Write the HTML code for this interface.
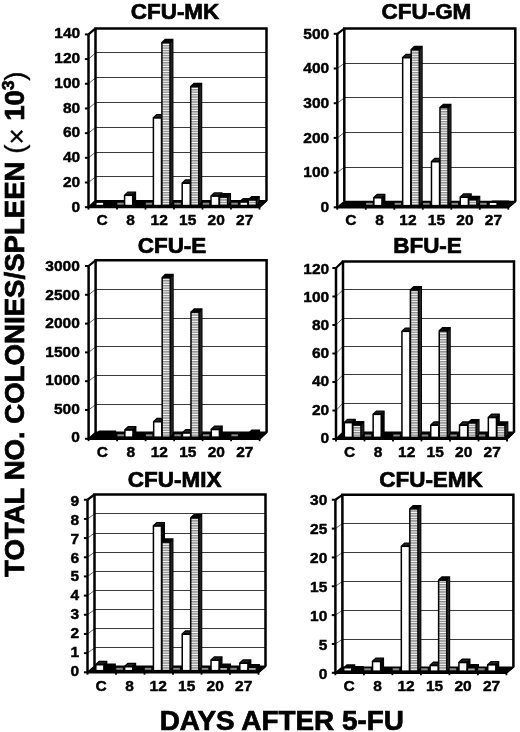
<!DOCTYPE html>
<html><head><meta charset="utf-8"><style>
html,body{margin:0;padding:0;background:#fff;}
svg{display:block;filter:grayscale(1);}
.tl{font-family:"Liberation Sans",sans-serif;font-weight:bold;font-size:15.5px;fill:#000;stroke:#000;stroke-width:0.45px;}
.tt{font-family:"Liberation Sans",sans-serif;font-weight:bold;font-size:21.6px;fill:#000;stroke:#000;stroke-width:0.7px;}
.ax{font-family:"Liberation Sans",sans-serif;font-weight:bold;font-size:27px;fill:#000;stroke:#000;stroke-width:0.7px;}
</style></head><body>
<svg width="520" height="732" viewBox="0 0 520 732">
<defs>
<pattern id="hatch" x="0" y="0" width="8" height="2.45" patternUnits="userSpaceOnUse">
<rect width="8" height="2.45" fill="#ababab"/>
<rect y="0" width="8" height="1.2" fill="#fcfcfc"/>
<rect y="1.2" width="8" height="0.45" fill="#505050"/>
</pattern>
</defs>
<rect width="520" height="732" fill="#fff"/>
<polygon points="88.5,34.4 95.5,28.4 95.5,200.7 88.5,207.2" fill="#fff"/>
<line x1="95.5" y1="176.5" x2="266.5" y2="176.5" stroke="#3a3a3a" stroke-width="1"/>
<line x1="88.5" y1="182.51" x2="95.5" y2="176.91" stroke="#555" stroke-width="0.9"/>
<line x1="95.5" y1="152.5" x2="266.5" y2="152.5" stroke="#3a3a3a" stroke-width="1"/>
<line x1="88.5" y1="157.83" x2="95.5" y2="152.13" stroke="#555" stroke-width="0.9"/>
<line x1="95.5" y1="127.5" x2="266.5" y2="127.5" stroke="#3a3a3a" stroke-width="1"/>
<line x1="88.5" y1="133.14" x2="95.5" y2="127.34" stroke="#555" stroke-width="0.9"/>
<line x1="95.5" y1="102.5" x2="266.5" y2="102.5" stroke="#3a3a3a" stroke-width="1"/>
<line x1="88.5" y1="108.46" x2="95.5" y2="102.56" stroke="#555" stroke-width="0.9"/>
<line x1="95.5" y1="77.5" x2="266.5" y2="77.5" stroke="#3a3a3a" stroke-width="1"/>
<line x1="88.5" y1="83.77" x2="95.5" y2="77.77" stroke="#555" stroke-width="0.9"/>
<line x1="95.5" y1="52.5" x2="266.5" y2="52.5" stroke="#3a3a3a" stroke-width="1"/>
<line x1="88.5" y1="59.09" x2="95.5" y2="52.99" stroke="#555" stroke-width="0.9"/>
<path d="M95.5,200.7 V28.4 H266.5 V200.7" fill="none" stroke="#000" stroke-width="2.5" stroke-linejoin="miter"/>
<line x1="88.5" y1="34.4" x2="95.5" y2="28.4" stroke="#000" stroke-width="2.2"/>
<polygon points="88.5,207.2 259.5,207.2 266.5,200.7 95.5,200.7" fill="#000" stroke="#000" stroke-width="1.6" stroke-linejoin="round"/>
<rect x="117.3" y="202.7" width="6.5" height="2" fill="#8a8a8a"/>
<rect x="145.8" y="202.7" width="6.5" height="2" fill="#8a8a8a"/>
<rect x="174.3" y="202.7" width="6.5" height="2" fill="#8a8a8a"/>
<rect x="202.8" y="202.7" width="6.5" height="2" fill="#8a8a8a"/>
<rect x="231.3" y="202.7" width="6.5" height="2" fill="#8a8a8a"/>
<polygon points="95.05,205.3 95.05,203.1 98.85,201.5 107.35,201.5 107.35,201.8 103.55,205.3" fill="#000"/>
<rect x="96.55" y="202.9" width="6.6" height="1.9" fill="#fff"/>
<polygon points="103.55,205.3 103.55,203.1 107.35,202.5 115.85,202.5 115.85,201.8 112.05,205.3" fill="#000"/>
<polygon points="123.85,205.3 123.85,194.9 127.65,191.4 136.15,191.4 136.15,201.8 132.35,205.3" fill="#000"/>
<polygon points="125.45,194.3 128.25,192.5 135.15,192.5 132.15,194.3" fill="#222"/>
<rect x="125.35" y="196.1" width="6.6" height="8.7" fill="#fff"/>
<polygon points="132.35,205.3 132.35,203.1 136.15,203 144.65,203 144.65,201.8 140.85,205.3" fill="#000"/>
<polygon points="152.65,205.3 152.65,117.5 156.45,114 164.95,114 164.95,201.8 161.15,205.3" fill="#000"/>
<polygon points="154.25,116.9 157.05,115.1 163.95,115.1 160.95,116.9" fill="#222"/>
<rect x="154.15" y="118.7" width="6.6" height="86.1" fill="#fff"/>
<polygon points="161.15,205.3 161.15,42.25 164.95,38.75 173.45,38.75 173.45,201.8 169.65,205.3" fill="#000"/>
<polygon points="170.55,43.45 172.55,40.55 172.55,201.3 170.55,204.5" fill="#222"/>
<rect x="162.65" y="43.45" width="6.6" height="161.35" fill="url(#hatch)"/>
<polygon points="181.45,205.3 181.45,182.8 185.25,179.3 193.75,179.3 193.75,201.8 189.95,205.3" fill="#000"/>
<polygon points="183.05,182.2 185.85,180.4 192.75,180.4 189.75,182.2" fill="#222"/>
<rect x="182.95" y="184" width="6.6" height="20.8" fill="#fff"/>
<polygon points="189.95,205.3 189.95,86.2 193.75,82.7 202.25,82.7 202.25,201.8 198.45,205.3" fill="#000"/>
<polygon points="199.35,87.4 201.35,84.5 201.35,201.3 199.35,204.5" fill="#222"/>
<rect x="191.45" y="87.4" width="6.6" height="117.4" fill="url(#hatch)"/>
<polygon points="210.25,205.3 210.25,195.7 214.05,192.2 222.55,192.2 222.55,201.8 218.75,205.3" fill="#000"/>
<polygon points="211.85,195.1 214.65,193.3 221.55,193.3 218.55,195.1" fill="#222"/>
<rect x="211.75" y="196.9" width="6.6" height="7.9" fill="#fff"/>
<polygon points="218.75,205.3 218.75,196.6 222.55,193.1 231.05,193.1 231.05,201.8 227.25,205.3" fill="#000"/>
<polygon points="228.15,197.8 230.15,194.9 230.15,201.3 228.15,204.5" fill="#222"/>
<rect x="220.25" y="197.8" width="6.6" height="7" fill="url(#hatch)"/>
<polygon points="239.05,205.3 239.05,201.6 242.85,198.1 251.35,198.1 251.35,201.8 247.55,205.3" fill="#000"/>
<rect x="240.55" y="202.8" width="6.6" height="2" fill="#fff"/>
<polygon points="247.55,205.3 247.55,199.5 251.35,196 259.85,196 259.85,201.8 256.05,205.3" fill="#000"/>
<polygon points="256.95,200.7 258.95,197.8 258.95,201.3 256.95,204.5" fill="#222"/>
<rect x="249.05" y="200.7" width="6.6" height="4.1" fill="url(#hatch)"/>
<line x1="88.5" y1="34.1" x2="88.5" y2="208.2" stroke="#000" stroke-width="2.5"/>
<line x1="87.5" y1="207.2" x2="259.5" y2="207.2" stroke="#000" stroke-width="2.2"/>
<line x1="259.5" y1="207.2" x2="266.5" y2="200.7" stroke="#000" stroke-width="1.6"/>
<line x1="84.9" y1="207.2" x2="88.5" y2="207.2" stroke="#000" stroke-width="2"/>
<text x="80.2" y="211.9" text-anchor="end" class="tl">0</text>
<line x1="84.9" y1="182.51" x2="88.5" y2="182.51" stroke="#000" stroke-width="2"/>
<text x="80.2" y="187.07" text-anchor="end" class="tl">20</text>
<line x1="84.9" y1="157.83" x2="88.5" y2="157.83" stroke="#000" stroke-width="2"/>
<text x="80.2" y="162.24" text-anchor="end" class="tl">40</text>
<line x1="84.9" y1="133.14" x2="88.5" y2="133.14" stroke="#000" stroke-width="2"/>
<text x="80.2" y="137.41" text-anchor="end" class="tl">60</text>
<line x1="84.9" y1="108.46" x2="88.5" y2="108.46" stroke="#000" stroke-width="2"/>
<text x="80.2" y="112.59" text-anchor="end" class="tl">80</text>
<line x1="84.9" y1="83.77" x2="88.5" y2="83.77" stroke="#000" stroke-width="2"/>
<text x="80.2" y="87.76" text-anchor="end" class="tl">100</text>
<line x1="84.9" y1="59.09" x2="88.5" y2="59.09" stroke="#000" stroke-width="2"/>
<text x="80.2" y="62.93" text-anchor="end" class="tl">120</text>
<line x1="84.9" y1="34.4" x2="88.5" y2="34.4" stroke="#000" stroke-width="2"/>
<text x="80.2" y="38.1" text-anchor="end" class="tl">140</text>
<line x1="88.5" y1="207.2" x2="88.5" y2="209.6" stroke="#000" stroke-width="1.8"/>
<line x1="117" y1="207.2" x2="117" y2="209.6" stroke="#000" stroke-width="1.8"/>
<line x1="145.5" y1="207.2" x2="145.5" y2="209.6" stroke="#000" stroke-width="1.8"/>
<line x1="174" y1="207.2" x2="174" y2="209.6" stroke="#000" stroke-width="1.8"/>
<line x1="202.5" y1="207.2" x2="202.5" y2="209.6" stroke="#000" stroke-width="1.8"/>
<line x1="231" y1="207.2" x2="231" y2="209.6" stroke="#000" stroke-width="1.8"/>
<line x1="259.5" y1="207.2" x2="259.5" y2="209.6" stroke="#000" stroke-width="1.8"/>
<text x="102.15" y="224.7" text-anchor="middle" class="tl">C</text>
<text x="130.65" y="224.7" text-anchor="middle" class="tl">8</text>
<text x="159.15" y="224.7" text-anchor="middle" class="tl">12</text>
<text x="187.65" y="224.7" text-anchor="middle" class="tl">15</text>
<text x="216.15" y="224.7" text-anchor="middle" class="tl">20</text>
<text x="244.65" y="224.7" text-anchor="middle" class="tl">27</text>
<text transform="translate(175,19.3) scale(1.04,1)" text-anchor="middle" class="tt">CFU-MK</text>
<polygon points="337.3,33.8 344.3,28.6 344.3,201.6 337.3,207.3" fill="#fff"/>
<line x1="344.3" y1="167.5" x2="515.3" y2="167.5" stroke="#3a3a3a" stroke-width="1"/>
<line x1="337.3" y1="172.6" x2="344.3" y2="167.18" stroke="#555" stroke-width="0.9"/>
<line x1="344.3" y1="132.5" x2="515.3" y2="132.5" stroke="#3a3a3a" stroke-width="1"/>
<line x1="337.3" y1="137.9" x2="344.3" y2="132.56" stroke="#555" stroke-width="0.9"/>
<line x1="344.3" y1="97.5" x2="515.3" y2="97.5" stroke="#3a3a3a" stroke-width="1"/>
<line x1="337.3" y1="103.2" x2="344.3" y2="97.94" stroke="#555" stroke-width="0.9"/>
<line x1="344.3" y1="63.5" x2="515.3" y2="63.5" stroke="#3a3a3a" stroke-width="1"/>
<line x1="337.3" y1="68.5" x2="344.3" y2="63.32" stroke="#555" stroke-width="0.9"/>
<path d="M344.3,201.6 V28.6 H515.3 V201.6" fill="none" stroke="#000" stroke-width="2.5" stroke-linejoin="miter"/>
<line x1="337.3" y1="33.8" x2="344.3" y2="28.6" stroke="#000" stroke-width="2.2"/>
<polygon points="337.3,207.3 508.3,207.3 515.3,201.6 344.3,201.6" fill="#000" stroke="#000" stroke-width="1.6" stroke-linejoin="round"/>
<rect x="366.1" y="202.8" width="6.5" height="2" fill="#8a8a8a"/>
<rect x="394.6" y="202.8" width="6.5" height="2" fill="#8a8a8a"/>
<rect x="423.1" y="202.8" width="6.5" height="2" fill="#8a8a8a"/>
<rect x="451.6" y="202.8" width="6.5" height="2" fill="#8a8a8a"/>
<rect x="480.1" y="202.8" width="6.5" height="2" fill="#8a8a8a"/>
<polygon points="344.32,205.4 344.32,203.2 348.12,201.5 356.62,201.5 356.62,201.9 352.82,205.4" fill="#000"/>
<polygon points="352.82,205.4 352.82,203.2 356.62,202 365.12,202 365.12,201.9 361.32,205.4" fill="#000"/>
<polygon points="373.12,205.4 373.12,197.3 376.92,193.8 385.42,193.8 385.42,201.9 381.62,205.4" fill="#000"/>
<polygon points="374.72,196.7 377.52,194.9 384.42,194.9 381.42,196.7" fill="#222"/>
<rect x="374.62" y="198.5" width="6.6" height="6.4" fill="#fff"/>
<polygon points="381.62,205.4 381.62,203.2 385.42,202 393.92,202 393.92,201.9 390.12,205.4" fill="#000"/>
<polygon points="401.92,205.4 401.92,57.3 405.72,53.8 414.22,53.8 414.22,201.9 410.42,205.4" fill="#000"/>
<polygon points="403.52,56.7 406.32,54.9 413.22,54.9 410.22,56.7" fill="#222"/>
<rect x="403.42" y="58.5" width="6.6" height="146.4" fill="#fff"/>
<polygon points="410.42,205.4 410.42,49.3 414.22,45.8 422.72,45.8 422.72,201.9 418.92,205.4" fill="#000"/>
<polygon points="419.82,50.5 421.82,47.6 421.82,201.4 419.82,204.6" fill="#222"/>
<rect x="411.92" y="50.5" width="6.6" height="154.4" fill="url(#hatch)"/>
<polygon points="430.72,205.4 430.72,161.3 434.52,157.8 443.02,157.8 443.02,201.9 439.22,205.4" fill="#000"/>
<polygon points="432.32,160.7 435.12,158.9 442.02,158.9 439.02,160.7" fill="#222"/>
<rect x="432.22" y="162.5" width="6.6" height="42.4" fill="#fff"/>
<polygon points="439.22,205.4 439.22,107.2 443.02,103.7 451.52,103.7 451.52,201.9 447.72,205.4" fill="#000"/>
<polygon points="448.62,108.4 450.62,105.5 450.62,201.4 448.62,204.6" fill="#222"/>
<rect x="440.72" y="108.4" width="6.6" height="96.5" fill="url(#hatch)"/>
<polygon points="459.52,205.4 459.52,196.8 463.32,193.3 471.82,193.3 471.82,201.9 468.02,205.4" fill="#000"/>
<polygon points="461.12,196.2 463.92,194.4 470.82,194.4 467.82,196.2" fill="#222"/>
<rect x="461.02" y="198" width="6.6" height="6.9" fill="#fff"/>
<polygon points="468.02,205.4 468.02,199.3 471.82,195.8 480.32,195.8 480.32,201.9 476.52,205.4" fill="#000"/>
<polygon points="477.42,200.5 479.42,197.6 479.42,201.4 477.42,204.6" fill="#222"/>
<rect x="469.52" y="200.5" width="6.6" height="4.4" fill="url(#hatch)"/>
<polygon points="488.32,205.4 488.32,203.2 492.12,200.5 500.62,200.5 500.62,201.9 496.82,205.4" fill="#000"/>
<rect x="489.82" y="203" width="6.6" height="1.9" fill="#fff"/>
<polygon points="496.82,205.4 496.82,203.2 500.62,200.5 509.12,200.5 509.12,201.9 505.32,205.4" fill="#000"/>
<line x1="337.3" y1="33.5" x2="337.3" y2="208.3" stroke="#000" stroke-width="2.5"/>
<line x1="336.3" y1="207.3" x2="508.3" y2="207.3" stroke="#000" stroke-width="2.2"/>
<line x1="508.3" y1="207.3" x2="515.3" y2="201.6" stroke="#000" stroke-width="1.6"/>
<line x1="333.7" y1="207.3" x2="337.3" y2="207.3" stroke="#000" stroke-width="2"/>
<text x="329.2" y="212.1" text-anchor="end" class="tl">0</text>
<line x1="333.7" y1="172.6" x2="337.3" y2="172.6" stroke="#000" stroke-width="2"/>
<text x="329.2" y="177.38" text-anchor="end" class="tl">100</text>
<line x1="333.7" y1="137.9" x2="337.3" y2="137.9" stroke="#000" stroke-width="2"/>
<text x="329.2" y="142.66" text-anchor="end" class="tl">200</text>
<line x1="333.7" y1="103.2" x2="337.3" y2="103.2" stroke="#000" stroke-width="2"/>
<text x="329.2" y="107.94" text-anchor="end" class="tl">300</text>
<line x1="333.7" y1="68.5" x2="337.3" y2="68.5" stroke="#000" stroke-width="2"/>
<text x="329.2" y="73.22" text-anchor="end" class="tl">400</text>
<line x1="333.7" y1="33.8" x2="337.3" y2="33.8" stroke="#000" stroke-width="2"/>
<text x="329.2" y="38.5" text-anchor="end" class="tl">500</text>
<line x1="337.3" y1="207.3" x2="337.3" y2="209.7" stroke="#000" stroke-width="1.8"/>
<line x1="365.8" y1="207.3" x2="365.8" y2="209.7" stroke="#000" stroke-width="1.8"/>
<line x1="394.3" y1="207.3" x2="394.3" y2="209.7" stroke="#000" stroke-width="1.8"/>
<line x1="422.8" y1="207.3" x2="422.8" y2="209.7" stroke="#000" stroke-width="1.8"/>
<line x1="451.3" y1="207.3" x2="451.3" y2="209.7" stroke="#000" stroke-width="1.8"/>
<line x1="479.8" y1="207.3" x2="479.8" y2="209.7" stroke="#000" stroke-width="1.8"/>
<line x1="508.3" y1="207.3" x2="508.3" y2="209.7" stroke="#000" stroke-width="1.8"/>
<text x="350.95" y="224.8" text-anchor="middle" class="tl">C</text>
<text x="379.45" y="224.8" text-anchor="middle" class="tl">8</text>
<text x="407.95" y="224.8" text-anchor="middle" class="tl">12</text>
<text x="436.45" y="224.8" text-anchor="middle" class="tl">15</text>
<text x="464.95" y="224.8" text-anchor="middle" class="tl">20</text>
<text x="493.45" y="224.8" text-anchor="middle" class="tl">27</text>
<text transform="translate(426.4,19.4) scale(1.04,1)" text-anchor="middle" class="tt">CFU-GM</text>
<polygon points="88.6,266 95.6,260.3 95.6,432.4 88.6,438.8" fill="#fff"/>
<line x1="95.6" y1="404.5" x2="266.6" y2="404.5" stroke="#3a3a3a" stroke-width="1"/>
<line x1="88.6" y1="410" x2="95.6" y2="404.58" stroke="#555" stroke-width="0.9"/>
<line x1="95.6" y1="375.5" x2="266.6" y2="375.5" stroke="#3a3a3a" stroke-width="1"/>
<line x1="88.6" y1="381.2" x2="95.6" y2="375.77" stroke="#555" stroke-width="0.9"/>
<line x1="95.6" y1="346.5" x2="266.6" y2="346.5" stroke="#3a3a3a" stroke-width="1"/>
<line x1="88.6" y1="352.4" x2="95.6" y2="346.95" stroke="#555" stroke-width="0.9"/>
<line x1="95.6" y1="318.5" x2="266.6" y2="318.5" stroke="#3a3a3a" stroke-width="1"/>
<line x1="88.6" y1="323.6" x2="95.6" y2="318.13" stroke="#555" stroke-width="0.9"/>
<line x1="95.6" y1="289.5" x2="266.6" y2="289.5" stroke="#3a3a3a" stroke-width="1"/>
<line x1="88.6" y1="294.8" x2="95.6" y2="289.32" stroke="#555" stroke-width="0.9"/>
<path d="M95.6,432.4 V260.3 H266.6 V432.4" fill="none" stroke="#000" stroke-width="2.5" stroke-linejoin="miter"/>
<line x1="88.6" y1="266" x2="95.6" y2="260.3" stroke="#000" stroke-width="2.2"/>
<polygon points="88.6,438.8 259.6,438.8 266.6,432.4 95.6,432.4" fill="#000" stroke="#000" stroke-width="1.6" stroke-linejoin="round"/>
<rect x="117.4" y="434.3" width="6.5" height="2" fill="#8a8a8a"/>
<rect x="145.9" y="434.3" width="6.5" height="2" fill="#8a8a8a"/>
<rect x="174.4" y="434.3" width="6.5" height="2" fill="#8a8a8a"/>
<rect x="202.9" y="434.3" width="6.5" height="2" fill="#8a8a8a"/>
<rect x="231.4" y="434.3" width="6.5" height="2" fill="#8a8a8a"/>
<polygon points="95.33,436.9 95.33,433.9 99.13,430.4 107.63,430.4 107.63,433.4 103.83,436.9" fill="#000"/>
<polygon points="103.83,436.9 103.83,433.9 107.63,430.4 116.13,430.4 116.13,433.4 112.33,436.9" fill="#000"/>
<polygon points="124.13,436.9 124.13,429.6 127.93,426.1 136.43,426.1 136.43,433.4 132.63,436.9" fill="#000"/>
<polygon points="125.73,429 128.53,427.2 135.43,427.2 132.43,429" fill="#222"/>
<rect x="125.63" y="430.8" width="6.6" height="5.6" fill="#fff"/>
<polygon points="132.63,436.9 132.63,434.7 136.43,433 144.93,433 144.93,433.4 141.13,436.9" fill="#000"/>
<polygon points="152.93,436.9 152.93,421.3 156.73,417.8 165.23,417.8 165.23,433.4 161.43,436.9" fill="#000"/>
<polygon points="154.53,420.7 157.33,418.9 164.23,418.9 161.23,420.7" fill="#222"/>
<rect x="154.43" y="422.5" width="6.6" height="13.9" fill="#fff"/>
<polygon points="161.43,436.9 161.43,277.3 165.23,273.8 173.73,273.8 173.73,433.4 169.93,436.9" fill="#000"/>
<polygon points="170.83,278.5 172.83,275.6 172.83,432.9 170.83,436.1" fill="#222"/>
<rect x="162.93" y="278.5" width="6.6" height="157.9" fill="url(#hatch)"/>
<polygon points="181.73,436.9 181.73,432.6 185.53,429.1 194.03,429.1 194.03,433.4 190.23,436.9" fill="#000"/>
<polygon points="183.33,432 186.13,430.2 193.03,430.2 190.03,432" fill="#222"/>
<rect x="183.23" y="433.8" width="6.6" height="2.6" fill="#fff"/>
<polygon points="190.23,436.9 190.23,311.7 194.03,308.2 202.53,308.2 202.53,433.4 198.73,436.9" fill="#000"/>
<polygon points="199.63,312.9 201.63,310 201.63,432.9 199.63,436.1" fill="#222"/>
<rect x="191.73" y="312.9" width="6.6" height="123.5" fill="url(#hatch)"/>
<polygon points="210.53,436.9 210.53,429.1 214.33,425.6 222.83,425.6 222.83,433.4 219.03,436.9" fill="#000"/>
<polygon points="212.13,428.5 214.93,426.7 221.83,426.7 218.83,428.5" fill="#222"/>
<rect x="212.03" y="430.3" width="6.6" height="6.1" fill="#fff"/>
<polygon points="219.03,436.9 219.03,434.7 222.83,433 231.33,433 231.33,433.4 227.53,436.9" fill="#000"/>
<polygon points="239.33,436.9 239.33,434.7 243.13,433 251.63,433 251.63,433.4 247.83,436.9" fill="#000"/>
<polygon points="247.83,436.9 247.83,433 251.63,429.5 260.13,429.5 260.13,433.4 256.33,436.9" fill="#000"/>
<line x1="88.6" y1="265.7" x2="88.6" y2="439.8" stroke="#000" stroke-width="2.5"/>
<line x1="87.6" y1="438.8" x2="259.6" y2="438.8" stroke="#000" stroke-width="2.2"/>
<line x1="259.6" y1="438.8" x2="266.6" y2="432.4" stroke="#000" stroke-width="1.6"/>
<line x1="85" y1="438.8" x2="88.6" y2="438.8" stroke="#000" stroke-width="2"/>
<text x="79.8" y="442.4" text-anchor="end" class="tl">0</text>
<line x1="85" y1="410" x2="88.6" y2="410" stroke="#000" stroke-width="2"/>
<text x="79.8" y="413.85" text-anchor="end" class="tl">500</text>
<line x1="85" y1="381.2" x2="88.6" y2="381.2" stroke="#000" stroke-width="2"/>
<text x="79.8" y="385.3" text-anchor="end" class="tl">1000</text>
<line x1="85" y1="352.4" x2="88.6" y2="352.4" stroke="#000" stroke-width="2"/>
<text x="79.8" y="356.75" text-anchor="end" class="tl">1500</text>
<line x1="85" y1="323.6" x2="88.6" y2="323.6" stroke="#000" stroke-width="2"/>
<text x="79.8" y="328.2" text-anchor="end" class="tl">2000</text>
<line x1="85" y1="294.8" x2="88.6" y2="294.8" stroke="#000" stroke-width="2"/>
<text x="79.8" y="299.65" text-anchor="end" class="tl">2500</text>
<line x1="85" y1="266" x2="88.6" y2="266" stroke="#000" stroke-width="2"/>
<text x="79.8" y="271.1" text-anchor="end" class="tl">3000</text>
<line x1="88.6" y1="438.8" x2="88.6" y2="441.2" stroke="#000" stroke-width="1.8"/>
<line x1="117.1" y1="438.8" x2="117.1" y2="441.2" stroke="#000" stroke-width="1.8"/>
<line x1="145.6" y1="438.8" x2="145.6" y2="441.2" stroke="#000" stroke-width="1.8"/>
<line x1="174.1" y1="438.8" x2="174.1" y2="441.2" stroke="#000" stroke-width="1.8"/>
<line x1="202.6" y1="438.8" x2="202.6" y2="441.2" stroke="#000" stroke-width="1.8"/>
<line x1="231.1" y1="438.8" x2="231.1" y2="441.2" stroke="#000" stroke-width="1.8"/>
<line x1="259.6" y1="438.8" x2="259.6" y2="441.2" stroke="#000" stroke-width="1.8"/>
<text x="102.25" y="457" text-anchor="middle" class="tl">C</text>
<text x="130.75" y="457" text-anchor="middle" class="tl">8</text>
<text x="159.25" y="457" text-anchor="middle" class="tl">12</text>
<text x="187.75" y="457" text-anchor="middle" class="tl">15</text>
<text x="216.25" y="457" text-anchor="middle" class="tl">20</text>
<text x="244.75" y="457" text-anchor="middle" class="tl">27</text>
<text transform="translate(172,252.6) scale(1.04,1)" text-anchor="middle" class="tt">CFU-E</text>
<polygon points="336,268 343,261.4 343,432.2 336,439" fill="#fff"/>
<line x1="343" y1="403.5" x2="514" y2="403.5" stroke="#3a3a3a" stroke-width="1"/>
<line x1="336" y1="410.5" x2="343" y2="403" stroke="#555" stroke-width="0.9"/>
<line x1="343" y1="374.5" x2="514" y2="374.5" stroke="#3a3a3a" stroke-width="1"/>
<line x1="336" y1="382" x2="343" y2="374.7" stroke="#555" stroke-width="0.9"/>
<line x1="343" y1="346.5" x2="514" y2="346.5" stroke="#3a3a3a" stroke-width="1"/>
<line x1="336" y1="353.5" x2="343" y2="346.4" stroke="#555" stroke-width="0.9"/>
<line x1="343" y1="318.5" x2="514" y2="318.5" stroke="#3a3a3a" stroke-width="1"/>
<line x1="336" y1="325" x2="343" y2="318.1" stroke="#555" stroke-width="0.9"/>
<line x1="343" y1="289.5" x2="514" y2="289.5" stroke="#3a3a3a" stroke-width="1"/>
<line x1="336" y1="296.5" x2="343" y2="289.8" stroke="#555" stroke-width="0.9"/>
<path d="M343,432.2 V261.4 H514 V432.2" fill="none" stroke="#000" stroke-width="2.5" stroke-linejoin="miter"/>
<line x1="336" y1="268" x2="343" y2="261.4" stroke="#000" stroke-width="2.2"/>
<polygon points="336,439 507,439 514,432.2 343,432.2" fill="#000" stroke="#000" stroke-width="1.6" stroke-linejoin="round"/>
<rect x="364.8" y="434.5" width="6.5" height="2" fill="#8a8a8a"/>
<rect x="393.3" y="434.5" width="6.5" height="2" fill="#8a8a8a"/>
<rect x="421.8" y="434.5" width="6.5" height="2" fill="#8a8a8a"/>
<rect x="450.3" y="434.5" width="6.5" height="2" fill="#8a8a8a"/>
<rect x="478.8" y="434.5" width="6.5" height="2" fill="#8a8a8a"/>
<polygon points="343.59,437.1 343.59,422.2 347.39,418.7 355.89,418.7 355.89,433.6 352.09,437.1" fill="#000"/>
<polygon points="345.19,421.6 347.99,419.8 354.89,419.8 351.89,421.6" fill="#222"/>
<rect x="345.09" y="423.4" width="6.6" height="13.2" fill="#fff"/>
<polygon points="352.09,437.1 352.09,424.6 355.89,421.1 364.39,421.1 364.39,433.6 360.59,437.1" fill="#000"/>
<polygon points="361.49,425.8 363.49,422.9 363.49,433.1 361.49,436.3" fill="#222"/>
<rect x="353.59" y="425.8" width="6.6" height="10.8" fill="url(#hatch)"/>
<polygon points="372.39,437.1 372.39,413.9 376.19,410.4 384.69,410.4 384.69,433.6 380.89,437.1" fill="#000"/>
<polygon points="373.99,413.3 376.79,411.5 383.69,411.5 380.69,413.3" fill="#222"/>
<rect x="373.89" y="415.1" width="6.6" height="21.5" fill="#fff"/>
<polygon points="380.89,437.1 380.89,434.9 384.69,433 393.19,433 393.19,433.6 389.39,437.1" fill="#000"/>
<polygon points="401.19,437.1 401.19,330.9 404.99,327.4 413.49,327.4 413.49,433.6 409.69,437.1" fill="#000"/>
<polygon points="402.79,330.3 405.59,328.5 412.49,328.5 409.49,330.3" fill="#222"/>
<rect x="402.69" y="332.1" width="6.6" height="104.5" fill="#fff"/>
<polygon points="409.69,437.1 409.69,289.6 413.49,286.1 421.99,286.1 421.99,433.6 418.19,437.1" fill="#000"/>
<polygon points="419.09,290.8 421.09,287.9 421.09,433.1 419.09,436.3" fill="#222"/>
<rect x="411.19" y="290.8" width="6.6" height="145.8" fill="url(#hatch)"/>
<polygon points="429.99,437.1 429.99,424.8 433.79,421.3 442.29,421.3 442.29,433.6 438.49,437.1" fill="#000"/>
<polygon points="431.59,424.2 434.39,422.4 441.29,422.4 438.29,424.2" fill="#222"/>
<rect x="431.49" y="426" width="6.6" height="10.6" fill="#fff"/>
<polygon points="438.49,437.1 438.49,330.6 442.29,327.1 450.79,327.1 450.79,433.6 446.99,437.1" fill="#000"/>
<polygon points="447.89,331.8 449.89,328.9 449.89,433.1 447.89,436.3" fill="#222"/>
<rect x="439.99" y="331.8" width="6.6" height="104.8" fill="url(#hatch)"/>
<polygon points="458.79,437.1 458.79,424.8 462.59,421.3 471.09,421.3 471.09,433.6 467.29,437.1" fill="#000"/>
<polygon points="460.39,424.2 463.19,422.4 470.09,422.4 467.09,424.2" fill="#222"/>
<rect x="460.29" y="426" width="6.6" height="10.6" fill="#fff"/>
<polygon points="467.29,437.1 467.29,422.5 471.09,419 479.59,419 479.59,433.6 475.79,437.1" fill="#000"/>
<polygon points="476.69,423.7 478.69,420.8 478.69,433.1 476.69,436.3" fill="#222"/>
<rect x="468.79" y="423.7" width="6.6" height="12.9" fill="url(#hatch)"/>
<polygon points="487.59,437.1 487.59,417.1 491.39,413.6 499.89,413.6 499.89,433.6 496.09,437.1" fill="#000"/>
<polygon points="489.19,416.5 491.99,414.7 498.89,414.7 495.89,416.5" fill="#222"/>
<rect x="489.09" y="418.3" width="6.6" height="18.3" fill="#fff"/>
<polygon points="496.09,437.1 496.09,424.8 499.89,421.3 508.39,421.3 508.39,433.6 504.59,437.1" fill="#000"/>
<polygon points="505.49,426 507.49,423.1 507.49,433.1 505.49,436.3" fill="#222"/>
<rect x="497.59" y="426" width="6.6" height="10.6" fill="url(#hatch)"/>
<line x1="336" y1="267.7" x2="336" y2="440" stroke="#000" stroke-width="2.5"/>
<line x1="335" y1="439" x2="507" y2="439" stroke="#000" stroke-width="2.2"/>
<line x1="507" y1="439" x2="514" y2="432.2" stroke="#000" stroke-width="1.6"/>
<line x1="332.4" y1="439" x2="336" y2="439" stroke="#000" stroke-width="2"/>
<text x="329.2" y="442.9" text-anchor="end" class="tl">0</text>
<line x1="332.4" y1="410.5" x2="336" y2="410.5" stroke="#000" stroke-width="2"/>
<text x="329.2" y="414.67" text-anchor="end" class="tl">20</text>
<line x1="332.4" y1="382" x2="336" y2="382" stroke="#000" stroke-width="2"/>
<text x="329.2" y="386.43" text-anchor="end" class="tl">40</text>
<line x1="332.4" y1="353.5" x2="336" y2="353.5" stroke="#000" stroke-width="2"/>
<text x="329.2" y="358.2" text-anchor="end" class="tl">60</text>
<line x1="332.4" y1="325" x2="336" y2="325" stroke="#000" stroke-width="2"/>
<text x="329.2" y="329.97" text-anchor="end" class="tl">80</text>
<line x1="332.4" y1="296.5" x2="336" y2="296.5" stroke="#000" stroke-width="2"/>
<text x="329.2" y="301.73" text-anchor="end" class="tl">100</text>
<line x1="332.4" y1="268" x2="336" y2="268" stroke="#000" stroke-width="2"/>
<text x="329.2" y="273.5" text-anchor="end" class="tl">120</text>
<line x1="336" y1="439" x2="336" y2="441.4" stroke="#000" stroke-width="1.8"/>
<line x1="364.5" y1="439" x2="364.5" y2="441.4" stroke="#000" stroke-width="1.8"/>
<line x1="393" y1="439" x2="393" y2="441.4" stroke="#000" stroke-width="1.8"/>
<line x1="421.5" y1="439" x2="421.5" y2="441.4" stroke="#000" stroke-width="1.8"/>
<line x1="450" y1="439" x2="450" y2="441.4" stroke="#000" stroke-width="1.8"/>
<line x1="478.5" y1="439" x2="478.5" y2="441.4" stroke="#000" stroke-width="1.8"/>
<line x1="507" y1="439" x2="507" y2="441.4" stroke="#000" stroke-width="1.8"/>
<text x="349.65" y="457.2" text-anchor="middle" class="tl">C</text>
<text x="378.15" y="457.2" text-anchor="middle" class="tl">8</text>
<text x="406.65" y="457.2" text-anchor="middle" class="tl">12</text>
<text x="435.15" y="457.2" text-anchor="middle" class="tl">15</text>
<text x="463.65" y="457.2" text-anchor="middle" class="tl">20</text>
<text x="492.15" y="457.2" text-anchor="middle" class="tl">27</text>
<text transform="translate(427.5,253.1) scale(1.04,1)" text-anchor="middle" class="tt">BFU-E</text>
<polygon points="87.5,499.75 94.5,494.5 94.5,666.3 87.5,672.3" fill="#fff"/>
<line x1="94.5" y1="647.5" x2="265.5" y2="647.5" stroke="#3a3a3a" stroke-width="1"/>
<line x1="87.5" y1="653.13" x2="94.5" y2="647.87" stroke="#555" stroke-width="0.9"/>
<line x1="94.5" y1="628.5" x2="265.5" y2="628.5" stroke="#3a3a3a" stroke-width="1"/>
<line x1="87.5" y1="633.96" x2="94.5" y2="628.73" stroke="#555" stroke-width="0.9"/>
<line x1="94.5" y1="609.5" x2="265.5" y2="609.5" stroke="#3a3a3a" stroke-width="1"/>
<line x1="87.5" y1="614.78" x2="94.5" y2="609.6" stroke="#555" stroke-width="0.9"/>
<line x1="94.5" y1="590.5" x2="265.5" y2="590.5" stroke="#3a3a3a" stroke-width="1"/>
<line x1="87.5" y1="595.61" x2="94.5" y2="590.47" stroke="#555" stroke-width="0.9"/>
<line x1="94.5" y1="571.5" x2="265.5" y2="571.5" stroke="#3a3a3a" stroke-width="1"/>
<line x1="87.5" y1="576.44" x2="94.5" y2="571.33" stroke="#555" stroke-width="0.9"/>
<line x1="94.5" y1="552.5" x2="265.5" y2="552.5" stroke="#3a3a3a" stroke-width="1"/>
<line x1="87.5" y1="557.27" x2="94.5" y2="552.2" stroke="#555" stroke-width="0.9"/>
<line x1="94.5" y1="533.5" x2="265.5" y2="533.5" stroke="#3a3a3a" stroke-width="1"/>
<line x1="87.5" y1="538.09" x2="94.5" y2="533.07" stroke="#555" stroke-width="0.9"/>
<line x1="94.5" y1="513.5" x2="265.5" y2="513.5" stroke="#3a3a3a" stroke-width="1"/>
<line x1="87.5" y1="518.92" x2="94.5" y2="513.93" stroke="#555" stroke-width="0.9"/>
<path d="M94.5,666.3 V494.5 H265.5 V666.3" fill="none" stroke="#000" stroke-width="2.5" stroke-linejoin="miter"/>
<line x1="87.5" y1="499.75" x2="94.5" y2="494.5" stroke="#000" stroke-width="2.2"/>
<polygon points="87.5,672.3 258.5,672.3 265.5,666.3 94.5,666.3" fill="#000" stroke="#000" stroke-width="1.6" stroke-linejoin="round"/>
<rect x="116.3" y="667.8" width="6.5" height="2" fill="#8a8a8a"/>
<rect x="144.8" y="667.8" width="6.5" height="2" fill="#8a8a8a"/>
<rect x="173.3" y="667.8" width="6.5" height="2" fill="#8a8a8a"/>
<rect x="201.8" y="667.8" width="6.5" height="2" fill="#8a8a8a"/>
<rect x="230.3" y="667.8" width="6.5" height="2" fill="#8a8a8a"/>
<polygon points="95.07,670.4 95.07,664.3 98.87,660.8 107.37,660.8 107.37,666.9 103.57,670.4" fill="#000"/>
<polygon points="96.67,663.7 99.47,661.9 106.37,661.9 103.37,663.7" fill="#222"/>
<rect x="96.57" y="665.5" width="6.6" height="4.4" fill="#fff"/>
<polygon points="103.57,670.4 103.57,666.9 107.37,663.4 115.87,663.4 115.87,666.9 112.07,670.4" fill="#000"/>
<polygon points="123.87,670.4 123.87,666.3 127.67,662.8 136.17,662.8 136.17,666.9 132.37,670.4" fill="#000"/>
<polygon points="125.47,665.7 128.27,663.9 135.17,663.9 132.17,665.7" fill="#222"/>
<rect x="125.37" y="667.5" width="6.6" height="2.4" fill="#fff"/>
<polygon points="132.37,670.4 132.37,668.2 136.17,666 144.67,666 144.67,666.9 140.87,670.4" fill="#000"/>
<polygon points="152.67,670.4 152.67,525.6 156.47,522.1 164.97,522.1 164.97,666.9 161.17,670.4" fill="#000"/>
<polygon points="154.27,525 157.07,523.2 163.97,523.2 160.97,525" fill="#222"/>
<rect x="154.17" y="526.8" width="6.6" height="143.1" fill="#fff"/>
<polygon points="161.17,670.4 161.17,541.7 164.97,538.2 173.47,538.2 173.47,666.9 169.67,670.4" fill="#000"/>
<polygon points="170.57,542.9 172.57,540 172.57,666.4 170.57,669.6" fill="#222"/>
<rect x="162.67" y="542.9" width="6.6" height="127" fill="url(#hatch)"/>
<polygon points="181.47,670.4 181.47,633.8 185.27,630.3 193.77,630.3 193.77,666.9 189.97,670.4" fill="#000"/>
<polygon points="183.07,633.2 185.87,631.4 192.77,631.4 189.77,633.2" fill="#222"/>
<rect x="182.97" y="635" width="6.6" height="34.9" fill="#fff"/>
<polygon points="189.97,670.4 189.97,517.5 193.77,514 202.27,514 202.27,666.9 198.47,670.4" fill="#000"/>
<polygon points="199.37,518.7 201.37,515.8 201.37,666.4 199.37,669.6" fill="#222"/>
<rect x="191.47" y="518.7" width="6.6" height="151.2" fill="url(#hatch)"/>
<polygon points="210.27,670.4 210.27,659.8 214.07,656.3 222.57,656.3 222.57,666.9 218.77,670.4" fill="#000"/>
<polygon points="211.87,659.2 214.67,657.4 221.57,657.4 218.57,659.2" fill="#222"/>
<rect x="211.77" y="661" width="6.6" height="8.9" fill="#fff"/>
<polygon points="218.77,670.4 218.77,666.9 222.57,663.4 231.07,663.4 231.07,666.9 227.27,670.4" fill="#000"/>
<rect x="220.27" y="668" width="6.6" height="1.9" fill="#aaa"/>
<polygon points="239.07,670.4 239.07,662.8 242.87,659.3 251.37,659.3 251.37,666.9 247.57,670.4" fill="#000"/>
<polygon points="240.67,662.2 243.47,660.4 250.37,660.4 247.37,662.2" fill="#222"/>
<rect x="240.57" y="664" width="6.6" height="5.9" fill="#fff"/>
<polygon points="247.57,670.4 247.57,667.4 251.37,663.9 259.87,663.9 259.87,666.9 256.07,670.4" fill="#000"/>
<rect x="249.07" y="668" width="6.6" height="1.9" fill="#aaa"/>
<line x1="87.5" y1="499.45" x2="87.5" y2="673.3" stroke="#000" stroke-width="2.5"/>
<line x1="86.5" y1="672.3" x2="258.5" y2="672.3" stroke="#000" stroke-width="2.2"/>
<line x1="258.5" y1="672.3" x2="265.5" y2="666.3" stroke="#000" stroke-width="1.6"/>
<line x1="83.9" y1="672.3" x2="87.5" y2="672.3" stroke="#000" stroke-width="2"/>
<text x="79.2" y="675.7" text-anchor="end" class="tl">0</text>
<line x1="83.9" y1="653.13" x2="87.5" y2="653.13" stroke="#000" stroke-width="2"/>
<text x="79.2" y="656.83" text-anchor="end" class="tl">1</text>
<line x1="83.9" y1="633.96" x2="87.5" y2="633.96" stroke="#000" stroke-width="2"/>
<text x="79.2" y="637.97" text-anchor="end" class="tl">2</text>
<line x1="83.9" y1="614.78" x2="87.5" y2="614.78" stroke="#000" stroke-width="2"/>
<text x="79.2" y="619.1" text-anchor="end" class="tl">3</text>
<line x1="83.9" y1="595.61" x2="87.5" y2="595.61" stroke="#000" stroke-width="2"/>
<text x="79.2" y="600.23" text-anchor="end" class="tl">4</text>
<line x1="83.9" y1="576.44" x2="87.5" y2="576.44" stroke="#000" stroke-width="2"/>
<text x="79.2" y="581.37" text-anchor="end" class="tl">5</text>
<line x1="83.9" y1="557.27" x2="87.5" y2="557.27" stroke="#000" stroke-width="2"/>
<text x="79.2" y="562.5" text-anchor="end" class="tl">6</text>
<line x1="83.9" y1="538.09" x2="87.5" y2="538.09" stroke="#000" stroke-width="2"/>
<text x="79.2" y="543.63" text-anchor="end" class="tl">7</text>
<line x1="83.9" y1="518.92" x2="87.5" y2="518.92" stroke="#000" stroke-width="2"/>
<text x="79.2" y="524.77" text-anchor="end" class="tl">8</text>
<line x1="83.9" y1="499.75" x2="87.5" y2="499.75" stroke="#000" stroke-width="2"/>
<text x="79.2" y="505.9" text-anchor="end" class="tl">9</text>
<line x1="87.5" y1="672.3" x2="87.5" y2="674.7" stroke="#000" stroke-width="1.8"/>
<line x1="116" y1="672.3" x2="116" y2="674.7" stroke="#000" stroke-width="1.8"/>
<line x1="144.5" y1="672.3" x2="144.5" y2="674.7" stroke="#000" stroke-width="1.8"/>
<line x1="173" y1="672.3" x2="173" y2="674.7" stroke="#000" stroke-width="1.8"/>
<line x1="201.5" y1="672.3" x2="201.5" y2="674.7" stroke="#000" stroke-width="1.8"/>
<line x1="230" y1="672.3" x2="230" y2="674.7" stroke="#000" stroke-width="1.8"/>
<line x1="258.5" y1="672.3" x2="258.5" y2="674.7" stroke="#000" stroke-width="1.8"/>
<text x="101.15" y="690.5" text-anchor="middle" class="tl">C</text>
<text x="129.65" y="690.5" text-anchor="middle" class="tl">8</text>
<text x="158.15" y="690.5" text-anchor="middle" class="tl">12</text>
<text x="186.65" y="690.5" text-anchor="middle" class="tl">15</text>
<text x="215.15" y="690.5" text-anchor="middle" class="tl">20</text>
<text x="243.65" y="690.5" text-anchor="middle" class="tl">27</text>
<text transform="translate(174.6,487.2) scale(1.04,1)" text-anchor="middle" class="tt">CFU-MIX</text>
<polygon points="335.4,499.75 342.4,494.8 342.4,667.2 335.4,672.8" fill="#fff"/>
<line x1="342.4" y1="639.5" x2="513.4" y2="639.5" stroke="#3a3a3a" stroke-width="1"/>
<line x1="335.4" y1="643.96" x2="342.4" y2="639.2" stroke="#555" stroke-width="0.9"/>
<line x1="342.4" y1="610.5" x2="513.4" y2="610.5" stroke="#3a3a3a" stroke-width="1"/>
<line x1="335.4" y1="615.12" x2="342.4" y2="610.3" stroke="#555" stroke-width="0.9"/>
<line x1="342.4" y1="581.5" x2="513.4" y2="581.5" stroke="#3a3a3a" stroke-width="1"/>
<line x1="335.4" y1="586.27" x2="342.4" y2="581.4" stroke="#555" stroke-width="0.9"/>
<line x1="342.4" y1="552.5" x2="513.4" y2="552.5" stroke="#3a3a3a" stroke-width="1"/>
<line x1="335.4" y1="557.43" x2="342.4" y2="552.5" stroke="#555" stroke-width="0.9"/>
<line x1="342.4" y1="523.5" x2="513.4" y2="523.5" stroke="#3a3a3a" stroke-width="1"/>
<line x1="335.4" y1="528.59" x2="342.4" y2="523.6" stroke="#555" stroke-width="0.9"/>
<path d="M342.4,667.2 V494.8 H513.4 V667.2" fill="none" stroke="#000" stroke-width="2.5" stroke-linejoin="miter"/>
<line x1="335.4" y1="499.75" x2="342.4" y2="494.8" stroke="#000" stroke-width="2.2"/>
<polygon points="335.4,672.8 506.4,672.8 513.4,667.2 342.4,667.2" fill="#000" stroke="#000" stroke-width="1.6" stroke-linejoin="round"/>
<rect x="364.2" y="668.3" width="6.5" height="2" fill="#8a8a8a"/>
<rect x="392.7" y="668.3" width="6.5" height="2" fill="#8a8a8a"/>
<rect x="421.2" y="668.3" width="6.5" height="2" fill="#8a8a8a"/>
<rect x="449.7" y="668.3" width="6.5" height="2" fill="#8a8a8a"/>
<rect x="478.2" y="668.3" width="6.5" height="2" fill="#8a8a8a"/>
<polygon points="342.98,670.9 342.98,667.7 346.78,664.2 355.28,664.2 355.28,667.4 351.48,670.9" fill="#000"/>
<rect x="344.48" y="668.5" width="6.6" height="1.9" fill="#fff"/>
<polygon points="351.48,670.9 351.48,668.7 355.28,666 363.78,666 363.78,667.4 359.98,670.9" fill="#000"/>
<polygon points="371.78,670.9 371.78,661.1 375.58,657.6 384.08,657.6 384.08,667.4 380.28,670.9" fill="#000"/>
<polygon points="373.38,660.5 376.18,658.7 383.08,658.7 380.08,660.5" fill="#222"/>
<rect x="373.28" y="662.3" width="6.6" height="8.1" fill="#fff"/>
<polygon points="380.28,670.9 380.28,668.7 384.08,667 392.58,667 392.58,667.4 388.78,670.9" fill="#000"/>
<polygon points="400.58,670.9 400.58,545.9 404.38,542.4 412.88,542.4 412.88,667.4 409.08,670.9" fill="#000"/>
<polygon points="402.18,545.3 404.98,543.5 411.88,543.5 408.88,545.3" fill="#222"/>
<rect x="402.08" y="547.1" width="6.6" height="123.3" fill="#fff"/>
<polygon points="409.08,670.9 409.08,508.4 412.88,504.9 421.38,504.9 421.38,667.4 417.58,670.9" fill="#000"/>
<polygon points="418.48,509.6 420.48,506.7 420.48,666.9 418.48,670.1" fill="#222"/>
<rect x="410.58" y="509.6" width="6.6" height="160.8" fill="url(#hatch)"/>
<polygon points="429.38,670.9 429.38,665.1 433.18,661.6 441.68,661.6 441.68,667.4 437.88,670.9" fill="#000"/>
<polygon points="430.98,664.5 433.78,662.7 440.68,662.7 437.68,664.5" fill="#222"/>
<rect x="430.88" y="666.3" width="6.6" height="4.1" fill="#fff"/>
<polygon points="437.88,670.9 437.88,579.7 441.68,576.2 450.18,576.2 450.18,667.4 446.38,670.9" fill="#000"/>
<polygon points="447.28,580.9 449.28,578 449.28,666.9 447.28,670.1" fill="#222"/>
<rect x="439.38" y="580.9" width="6.6" height="89.5" fill="url(#hatch)"/>
<polygon points="458.18,670.9 458.18,662.1 461.98,658.6 470.48,658.6 470.48,667.4 466.68,670.9" fill="#000"/>
<polygon points="459.78,661.5 462.58,659.7 469.48,659.7 466.48,661.5" fill="#222"/>
<rect x="459.68" y="663.3" width="6.6" height="7.1" fill="#fff"/>
<polygon points="466.68,670.9 466.68,667.4 470.48,663.9 478.98,663.9 478.98,667.4 475.18,670.9" fill="#000"/>
<rect x="468.18" y="668.5" width="6.6" height="1.9" fill="#aaa"/>
<polygon points="486.98,670.9 486.98,664.4 490.78,660.9 499.28,660.9 499.28,667.4 495.48,670.9" fill="#000"/>
<polygon points="488.58,663.8 491.38,662 498.28,662 495.28,663.8" fill="#222"/>
<rect x="488.48" y="665.6" width="6.6" height="4.8" fill="#fff"/>
<polygon points="495.48,670.9 495.48,668.7 499.28,667 507.78,667 507.78,667.4 503.98,670.9" fill="#000"/>
<line x1="335.4" y1="499.45" x2="335.4" y2="673.8" stroke="#000" stroke-width="2.5"/>
<line x1="334.4" y1="672.8" x2="506.4" y2="672.8" stroke="#000" stroke-width="2.2"/>
<line x1="506.4" y1="672.8" x2="513.4" y2="667.2" stroke="#000" stroke-width="1.6"/>
<line x1="331.8" y1="672.8" x2="335.4" y2="672.8" stroke="#000" stroke-width="2"/>
<text x="327.3" y="678.9" text-anchor="end" class="tl">0</text>
<line x1="331.8" y1="643.96" x2="335.4" y2="643.96" stroke="#000" stroke-width="2"/>
<text x="327.3" y="649.98" text-anchor="end" class="tl">5</text>
<line x1="331.8" y1="615.12" x2="335.4" y2="615.12" stroke="#000" stroke-width="2"/>
<text x="327.3" y="621.07" text-anchor="end" class="tl">10</text>
<line x1="331.8" y1="586.27" x2="335.4" y2="586.27" stroke="#000" stroke-width="2"/>
<text x="327.3" y="592.15" text-anchor="end" class="tl">15</text>
<line x1="331.8" y1="557.43" x2="335.4" y2="557.43" stroke="#000" stroke-width="2"/>
<text x="327.3" y="563.23" text-anchor="end" class="tl">20</text>
<line x1="331.8" y1="528.59" x2="335.4" y2="528.59" stroke="#000" stroke-width="2"/>
<text x="327.3" y="534.32" text-anchor="end" class="tl">25</text>
<line x1="331.8" y1="499.75" x2="335.4" y2="499.75" stroke="#000" stroke-width="2"/>
<text x="327.3" y="505.4" text-anchor="end" class="tl">30</text>
<line x1="335.4" y1="672.8" x2="335.4" y2="675.2" stroke="#000" stroke-width="1.8"/>
<line x1="363.9" y1="672.8" x2="363.9" y2="675.2" stroke="#000" stroke-width="1.8"/>
<line x1="392.4" y1="672.8" x2="392.4" y2="675.2" stroke="#000" stroke-width="1.8"/>
<line x1="420.9" y1="672.8" x2="420.9" y2="675.2" stroke="#000" stroke-width="1.8"/>
<line x1="449.4" y1="672.8" x2="449.4" y2="675.2" stroke="#000" stroke-width="1.8"/>
<line x1="477.9" y1="672.8" x2="477.9" y2="675.2" stroke="#000" stroke-width="1.8"/>
<line x1="506.4" y1="672.8" x2="506.4" y2="675.2" stroke="#000" stroke-width="1.8"/>
<text x="349.05" y="691" text-anchor="middle" class="tl">C</text>
<text x="377.55" y="691" text-anchor="middle" class="tl">8</text>
<text x="406.05" y="691" text-anchor="middle" class="tl">12</text>
<text x="434.55" y="691" text-anchor="middle" class="tl">15</text>
<text x="463.05" y="691" text-anchor="middle" class="tl">20</text>
<text x="491.55" y="691" text-anchor="middle" class="tl">27</text>
<text transform="translate(431,486.6) scale(1.04,1)" text-anchor="middle" class="tt">CFU-EMK</text>
<text class="ax" style="font-size:27.6px" transform="translate(23.9,324.2) rotate(-90)" text-anchor="middle">TOTAL NO. COLONIES/SPLEEN <tspan font-weight="normal" stroke-width="0.3">(<tspan dy="2.5">×</tspan></tspan><tspan dy="-2.5"> 10</tspan><tspan font-size="17" dy="-10">3</tspan><tspan dy="10" font-weight="normal" stroke-width="0.3">)</tspan></text>
<text class="ax" transform="translate(281.8,729.5) scale(1.033,1)" text-anchor="middle">DAYS AFTER 5-FU</text>
</svg>
</body></html>
